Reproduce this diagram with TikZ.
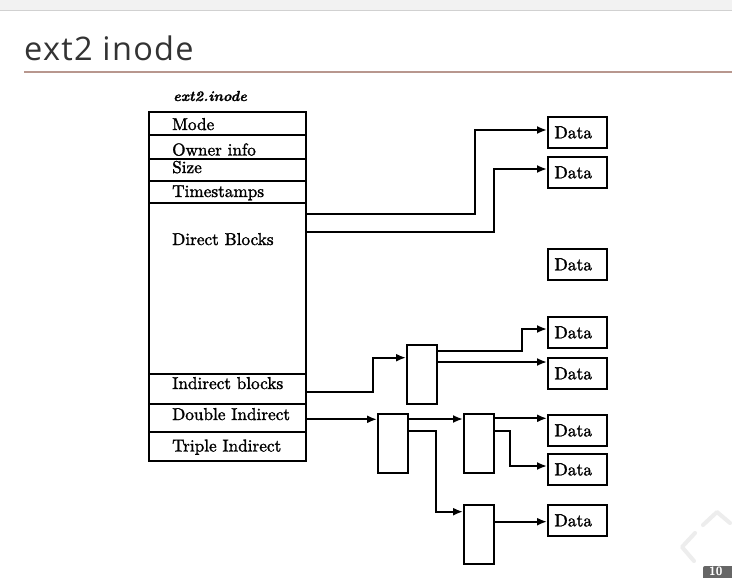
\documentclass[tikz,border=0pt]{standalone}
\usepackage{fontspec}
\newfontfamily\titlefont{Open Sans}[LetterSpace=4]
\newfontfamily\scanfont{lmroman10-regular.otf}[FakeBold=1.6]
\newfontfamily\lblfont{lmroman10-bolditalic.otf}[FakeBold=1.2]
\usetikzlibrary{arrows.meta}
\definecolor{rulecol}{HTML}{B8978E}
\tikzset{
  cell/.style={draw, line width=1.9pt, minimum width=157pt, inner sep=0pt, anchor=north west},
  rowtext/.style={anchor=base west, inner sep=0pt, font=\scanfont\fontsize{17.2}{20}\selectfont},
  ptr/.style={draw, line width=1.9pt, minimum width=30pt, minimum height=59pt, inner sep=0pt, anchor=north west},
  databox/.style={draw, line width=1.9pt, minimum width=59pt, minimum height=31pt, inner sep=0pt, anchor=north west, text width=46pt, align=left, font=\scanfont\fontsize{17.5}{20}\selectfont},
  arr/.style={line width=1.9pt, -{Latex[length=10pt,width=8pt]}},
}
\begin{document}
\begin{tikzpicture}[x=1pt,y=-1pt]
\useasboundingbox (0,0) rectangle (732,578);
\fill[white] (0,0) rectangle (732,578);
% browser strip
\fill[black!5] (0,0) rectangle (732,10);
\draw[black!18, line width=1pt] (0,11) -- (732,11);
% title
\node[anchor=base west, inner sep=0pt, font=\titlefont\fontsize{32.5}{36}\selectfont, text=black!80] (title) at (24,61) {ext2 inode};
\draw[rulecol, line width=2pt] (24,72) -- (732,72);
% inode label
\node[anchor=base west, inner sep=0pt, font=\lblfont\fontsize{14.5}{18}\selectfont] (lbl) at (173,101) {ext2.inode};
% inode rows
\node[cell, minimum height=23pt] (mode) at (148,111) {};
\node[cell, minimum height=24pt] (owner) at (148,134) {};
\node[cell, minimum height=22pt] (size) at (148,158) {};
\node[cell, minimum height=22pt] (time) at (148,180) {};
\node[cell, minimum height=171pt] (direct) at (148,202) {};
\node[cell, minimum height=30pt] (ind) at (148,373) {};
\node[cell, minimum height=28pt] (dbl) at (148,403) {};
\node[cell, minimum height=29pt] (tri) at (148,431) {};
\node[rowtext] (tmode) at (172,130) {Mode};
\node[rowtext] (towner) at (172,155.5) {Owner info};
\node[rowtext] (tsize) at (172,173) {Size};
\node[rowtext] (ttime) at (172,197) {Timestamps};
\node[rowtext] (tdirect) at (172,245) {Direct Blocks};
\node[rowtext] (tind) at (172,389) {Indirect blocks};
\node[rowtext] (tdbl) at (172,420) {Double Indirect};
\node[rowtext] (ttri) at (172,451.5) {Triple Indirect};
% data boxes
\node[databox] (d1) at (547,116) {Data};
\node[databox] (d2) at (547,156) {Data};
\node[databox] (d3) at (547,248) {Data};
\node[databox] (d4) at (547,316) {Data};
\node[databox] (d5) at (547,357) {Data};
\node[databox] (d6) at (547,414) {Data};
\node[databox] (d7) at (547,453) {Data};
\node[databox] (d8) at (547,504) {Data};
% pointer blocks
\node[ptr] (s1) at (406,344) {};
\node[ptr] (db1) at (377,413) {};
\node[ptr] (db2a) at (463,413) {};
\node[ptr] (db2b) at (463,504) {};
% direct connectors
\draw[arr] ([yshift=-12pt]direct.north east) -- ++(168,0) |- ([yshift=-14pt]d1.north west);
\draw[arr] ([yshift=-29.7pt]direct.north east) -- ++(187,0) |- ([yshift=-13pt]d2.north west);
% single indirect
\draw[arr] ([yshift=-18.7pt]ind.north east) -- ++(66,0) |- ([yshift=-13.7pt]s1.north west);
\draw[arr] ([yshift=-7pt]s1.north east) -- ++(84,0) |- ([yshift=-13pt]d4.north west);
\draw[arr] ([yshift=-18pt]s1.north east) -- ([yshift=-5pt]d5.north west);
% double indirect
\draw[arr] ([yshift=-16.3pt]dbl.north east) -- ([yshift=-6.3pt]db1.north west);
\draw[arr] ([yshift=-6pt]db1.north east) -- ([yshift=-6pt]db2a.north west);
\draw[arr] ([yshift=-17.7pt]db1.north east) -- ++(27,0) |- ([yshift=-7.7pt]db2b.north west);
\draw[arr] ([yshift=-5.3pt]db2a.north east) -- ([yshift=-4.3pt]d6.north west);
\draw[arr] ([yshift=-18pt]db2a.north east) -- ++(15.5,0) |- ([yshift=-13pt]d7.north west);
\draw[arr] ([yshift=-17.7pt]db2b.north east) -- ([yshift=-17.7pt]d8.north west);
% faint navigation chevrons
\draw[black!7, line width=4pt, line cap=round, line join=round] (703,525) -- (717,512) -- (730,523);
\draw[black!7, line width=4pt, line cap=round, line join=round] (695,533) -- (682,547) -- (694,561);
% page number
\fill[black!60, rounded corners=2pt] (703,566) rectangle (740,585);
\node[anchor=north west, inner sep=0pt, text=white, font=\sffamily\bfseries\fontsize{12}{14}\selectfont] (pnum) at (709,567) {10};
\end{tikzpicture}
\end{document}
